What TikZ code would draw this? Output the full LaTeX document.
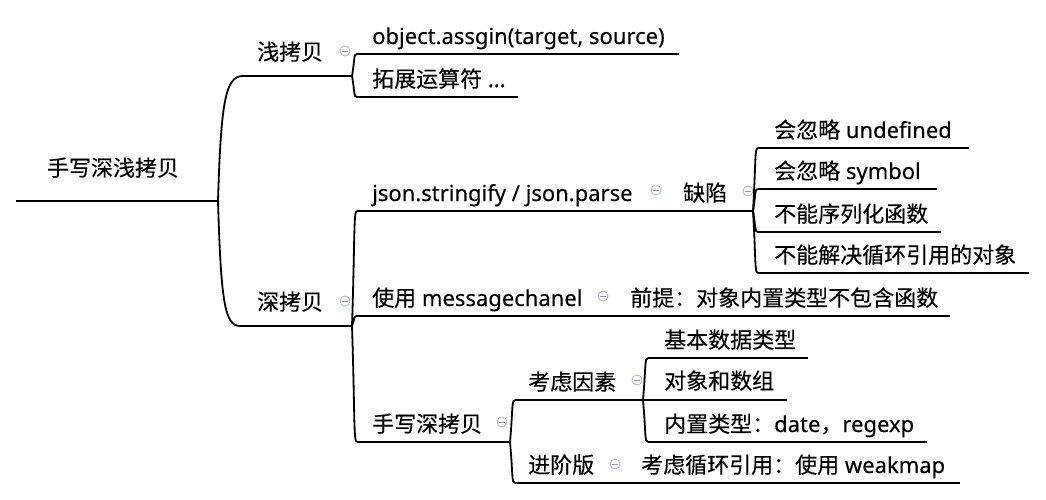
\documentclass[tikz,border=0pt]{standalone}
\usepackage{fontspec}
\setmainfont{Noto Sans}[FakeBold=0.25]
\newfontfamily\cjk{Noto Sans CJK SC}[FakeBold=0.25]
\usetikzlibrary{calc}
\definecolor{iconc}{RGB}{160,178,225}
\definecolor{iconm}{RGB}{140,150,190}
\tikzset{
  lbl/.style={inner sep=0pt, anchor=base west, font=\fontsize{22}{26}\selectfont, text=black},
  uline/.style={line width=2pt, black},
  cline/.style={line width=1.8pt, black},
  icon/.style={circle, draw=iconc, line width=0.8pt, minimum size=10pt, inner sep=0pt,
    path picture={\draw[iconm, line width=0.8pt] ([xshift=-2.6pt]path picture bounding box.center) -- ([xshift=2.6pt]path picture bounding box.center);}}
}
\newcommand\mmconn[2]{\draw[cline] let \p1=(#1), \p2=(#2) in (\p1) .. controls (\x1+3pt,{\y1+0.8*(\y2-\y1)}) and ({\x1+0.3*(\x2-\x1)},\y2) .. (\p2);}
\begin{document}
\begin{tikzpicture}[x=1pt,y=-1pt]
\useasboundingbox (0,0) rectangle (1046,500);
% root
\node[lbl, anchor=base] (root) at (113,176) {\cjk 手写深浅拷贝};
\coordinate (rootL) at (16,201); \coordinate (rootR) at (218,201);
\draw[uline] (rootL) -- (rootR);
% shallow copy
\node[lbl] (qian) at (257,60) {\cjk 浅拷贝};
\coordinate (qianL) at (243,76); \coordinate (qianR) at (352,76);
\draw[uline] (qianL) -- (qianR);
\node[icon] (ic1) at (345,51) {};
\node[lbl] (obj) at (372,44) {object.assgin(target, source)};
\coordinate (objL) at (357,54); \coordinate (objR) at (679,54);
\draw[uline] (objL) -- (objR);
\node[lbl] (tz) at (372,87) {{\cjk 拓展运算符} ...};
\coordinate (tzL) at (357,97); \coordinate (tzR) at (518,97);
\draw[uline] (tzL) -- (tzR);
% deep copy
\node[lbl] (shen) at (257,310) {\cjk 深拷贝};
\coordinate (shenL) at (240,326); \coordinate (shenR) at (352,326);
\draw[uline] (shenL) -- (shenR);
\node[icon] (ic2) at (345,301) {};
% json
\node[lbl] (json) at (372,201) {json.stringify / json.parse};
\coordinate (jsonL) at (357,211); \coordinate (jsonR) at (662,211);
\draw[uline] (jsonL) -- (jsonR);
\node[icon] (ic3) at (656,190) {};
\node[lbl] (qx) at (683,201) {\cjk 缺陷};
\coordinate (qxL) at (662,211); \coordinate (qxR) at (753,211);
\draw[uline] (qxL) -- (qxR);
\node[icon] (ic4) at (748,191) {};
\node[lbl] (u1) at (774,138) {{\cjk 会忽略} undefined};
\coordinate (u1L) at (758,148); \coordinate (u1R) at (969,148);
\draw[uline] (u1L) -- (u1R);
\node[lbl] (u2) at (774,179) {{\cjk 会忽略} symbol};
\coordinate (u2L) at (758,189); \coordinate (u2R) at (937,189);
\draw[uline] (u2L) -- (u2R);
\node[lbl] (u3) at (774,222) {\cjk 不能序列化函数};
\coordinate (u3L) at (758,232); \coordinate (u3R) at (941,232);
\draw[uline] (u3L) -- (u3R);
\node[lbl] (u4) at (774,263) {\cjk 不能解决循环引用的对象};
\coordinate (u4L) at (758,273); \coordinate (u4R) at (1029,273);
\draw[uline] (u4L) -- (u4R);
% messagechannel
\node[lbl] (msg) at (372,306) {{\cjk 使用} messagechanel};
\coordinate (msgL) at (357,316); \coordinate (msgR) at (612,316);
\draw[uline] (msgL) -- (msgR);
\node[icon] (ic5) at (603,296) {};
\node[lbl] (qt) at (630,306) {\cjk 前提：对象内置类型不包含函数};
\coordinate (qtL) at (612,316); \coordinate (qtR) at (950,316);
\draw[uline] (qtL) -- (qtR);
% hand-written
\node[lbl] (sx) at (372,432) {\cjk 手写深拷贝};
\coordinate (sxL) at (357,442); \coordinate (sxR) at (510,442);
\draw[uline] (sxL) -- (sxR);
\node[icon] (ic6) at (502,422) {};
\node[lbl] (kl) at (528,390) {\cjk 考虑因素};
\coordinate (klL) at (515,400); \coordinate (klR) at (643,400);
\draw[uline] (klL) -- (klR);
\node[icon] (ic7) at (637,380) {};
\node[lbl] (k1) at (664,348) {\cjk 基本数据类型};
\coordinate (k1L) at (648,358); \coordinate (k1R) at (808,358);
\draw[uline] (k1L) -- (k1R);
\node[lbl] (k2) at (664,389) {\cjk 对象和数组};
\coordinate (k2L) at (648,400); \coordinate (k2R) at (787,400);
\draw[uline] (k2L) -- (k2R);
\node[lbl] (k3) at (664,432) {{\cjk 内置类型：}date{\cjk ，}regexp};
\coordinate (k3L) at (648,442); \coordinate (k3R) at (927,442);
\draw[uline] (k3L) -- (k3R);
\node[lbl] (jj) at (528,473) {\cjk 进阶版};
\coordinate (jjL) at (515,483); \coordinate (jjR) at (623,483);
\draw[uline] (jjL) -- (jjR);
\node[icon] (ic8) at (615,464) {};
\node[lbl] (wm) at (641,473) {{\cjk 考虑循环引用：使用} weakmap};
\coordinate (wmL) at (623,483); \coordinate (wmR) at (960,483);
\draw[uline] (wmL) -- (wmR);
% connectors
\mmconn{rootR}{qianL}
\mmconn{rootR}{shenL}
\mmconn{qianR}{objL}
\mmconn{qianR}{tzL}
\mmconn{shenR}{jsonL}
\mmconn{shenR}{msgL}
\mmconn{shenR}{sxL}
\draw[cline] (jsonR) -- (qxL);
\mmconn{qxR}{u1L}
\mmconn{qxR}{u2L}
\mmconn{qxR}{u3L}
\mmconn{qxR}{u4L}
\draw[cline] (msgR) -- (qtL);
\mmconn{sxR}{klL}
\mmconn{sxR}{jjL}
\mmconn{klR}{k1L}
\mmconn{klR}{k2L}
\mmconn{klR}{k3L}
\draw[cline] (jjR) -- (wmL);
\end{tikzpicture}
\end{document}
